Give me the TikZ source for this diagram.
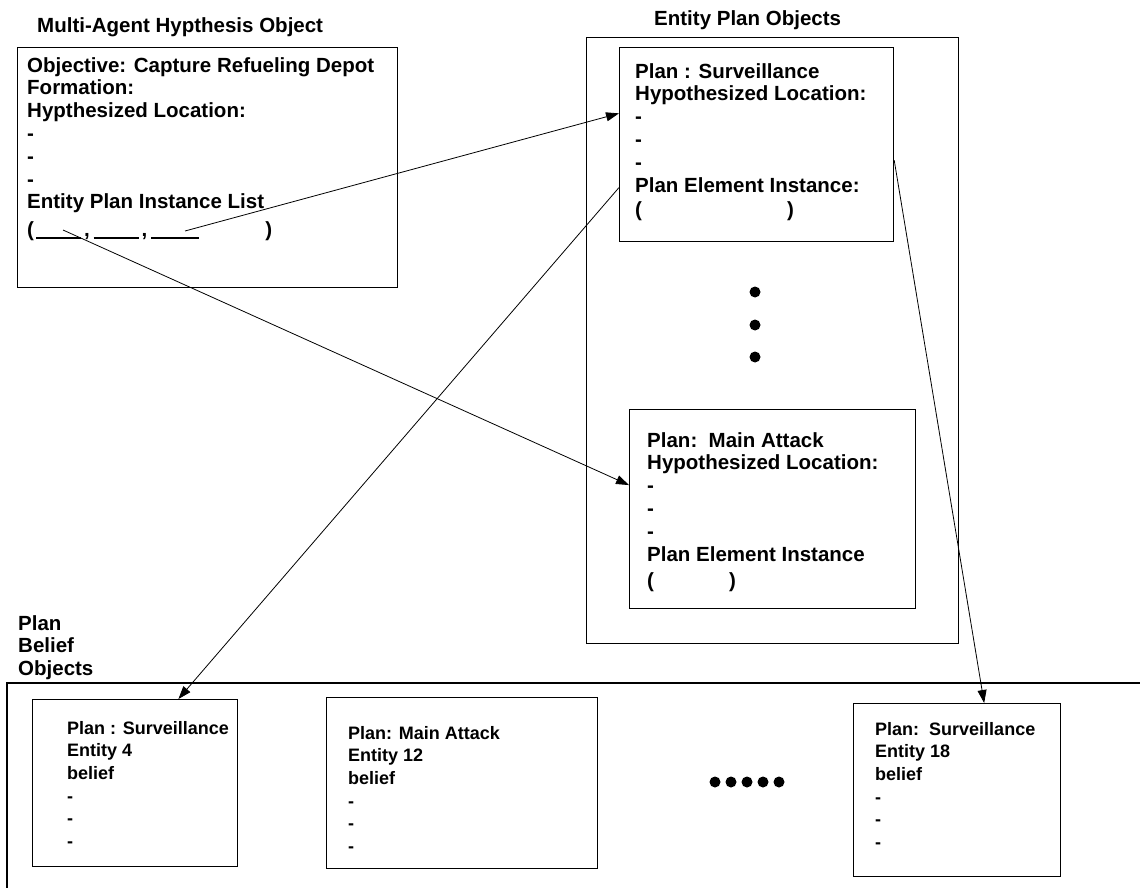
\documentclass[tikz,border=0pt]{standalone}
\usepackage{fontspec}
\setmainfont{Liberation Sans}
\usetikzlibrary{arrows.meta,positioning,calc}

\tikzset{
  box/.style={draw,line width=1.2pt,inner sep=0pt,anchor=north west},
  txt/.style={anchor=north west,inner sep=0pt,align=left,
    font=\fontsize{20.5}{22.8}\selectfont\bfseries},
  beltxt/.style={txt,font=\fontsize{18}{22.6}\selectfont\bfseries},
  link/.style={line width=.8pt,-{Triangle[length=13pt,width=9pt]}},
}
\newcommand{\blank}[1]{\rule[-2pt]{#1}{1.2pt}}

\begin{document}
\begin{tikzpicture}[x=1pt,y=-1pt]
    \useasboundingbox (0,0) rectangle (1140,888);

    % hypothesis object
    \node[txt] (hyptitle) at (37,17) {Multi-Agent Hypthesis Object};
    \node[box,minimum width=380pt,minimum height=240pt] (hyp) at (17,47) {};
    \node[txt] (hyptext) at (27,57) {Objective: Capture Refueling Depot\\
      Formation:\\
      Hypthesized Location:\\
      -\\ -\\ -\\
      Entity Plan Instance List\\[5pt]
      (\hspace{2pt}\blank{45pt}\hspace{3pt},\hspace{4pt}\blank{45pt}\hspace{3pt},\hspace{4pt}\blank{48pt}\hspace{66pt})};
    \coordinate (hypA) at (63,230);
    \coordinate (hypC) at (185,231);

    % entity plan objects
    \node[txt] (enttitle) at (654,10) {Entity Plan Objects};
    \node[box,minimum width=372pt,minimum height=606pt] (ent) at (586,37) {};

    \node[box,minimum width=274pt,minimum height=194pt] (surv) at (619,47) {};
    \node[txt] (survtext) at (635,63) {Plan : Surveillance\\
      Hypothesized Location:\\
      -\\ -\\ -\\
      Plan Element Instance:\\[2pt]
      (\hspace{145pt})};

    \fill (755,292) circle[radius=5.5];
    \fill (755,325) circle[radius=5.5];
    \fill (755,357) circle[radius=5.5];

    \node[box,minimum width=286pt,minimum height=199pt] (main) at (629,409) {};
    \node[txt] (maintext) at (647,432) {Plan:\ \ Main Attack\\
      Hypothesized Location:\\
      -\\ -\\ -\\
      Plan Element Instance\\[4pt]
      (\hspace{75pt})};

    % plan belief objects
    \node[txt] (beltitle) at (18,615) {Plan\\ Belief\\ Objects};
    \draw[line width=1.2pt] (1140,683) -- (7,683) -- (7,888);

    \node[box,minimum width=205pt,minimum height=167pt] (bel1) at (32,699) {};
    \node[beltxt] (bel1text) at (67,721) {Plan : Surveillance\\
      Entity 4\\ belief\\ -\\ -\\ -};

    \node[box,minimum width=271pt,minimum height=171pt] (bel2) at (326,697) {};
    \node[beltxt] (bel2text) at (348,726) {Plan: Main Attack\\
      Entity 12\\ belief\\ -\\ -\\ -};

    \fill (715,782) circle[radius=5.5];
    \fill (731,782) circle[radius=5.5];
    \fill (747,782) circle[radius=5.5];
    \fill (763,782) circle[radius=5.5];
    \fill (779,782) circle[radius=5.5];

    \node[box,minimum width=207pt,minimum height=173pt] (bel3) at (853,703) {};
    \node[beltxt] (bel3text) at (875,722) {Plan:\ \ Surveillance\\
      Entity 18\\ belief\\ -\\ -\\ -};

    % links
    \draw[link] (hypC) -- ($(surv.north west)!.34!(surv.south west)$);
    \draw[link] (hypA) -- ($(main.north west)!.38!(main.south west)$);
    \draw[link] ($(surv.north west)!.72!(surv.south west)$) -- ($(bel1.north west)!.71!(bel1.north east)$);
    \draw[link] ($(surv.north east)!.58!(surv.south east)$) -- ($(bel3.north west)!.63!(bel3.north east)$);
\end{tikzpicture}
\end{document}
